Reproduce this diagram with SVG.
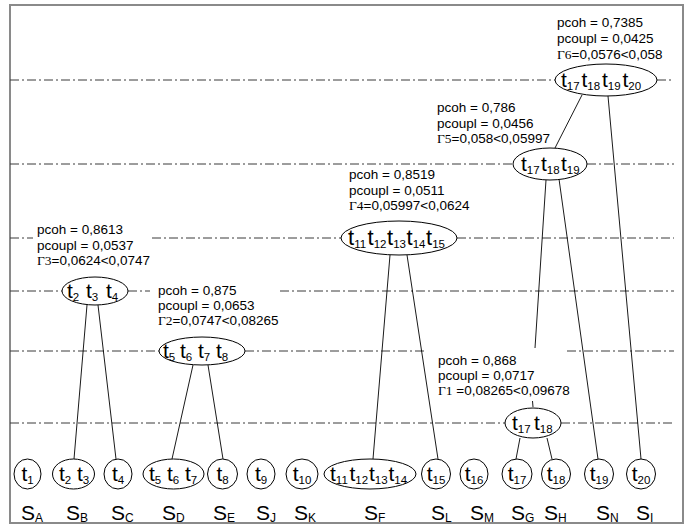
<svg xmlns="http://www.w3.org/2000/svg" width="691" height="528" viewBox="0 0 691 528">
<style>
.bg{fill:#fff}
.frame{fill:none;stroke:#8a8a8a;stroke-width:2}
.lv{fill:none;stroke:#3a3a3a;stroke-width:1;stroke-dasharray:9 3 2 3}
.ed{stroke:#000;stroke-width:0.9;fill:none}
.nd{fill:#fff;stroke:#000;stroke-width:1}
.t{font-family:"Liberation Sans",Arial,sans-serif;font-size:21px;fill:#000}
.tb{font-size:22px}
.s{font-size:11.5px}
.lab{font-family:"Liberation Sans",Arial,sans-serif;font-size:13.5px;fill:#000}
.g{font-family:"Liberation Serif","Times New Roman",serif}
.S{font-family:"Liberation Sans",Arial,sans-serif;font-size:21px;fill:#000}
.ss{font-size:12px}
.m{text-anchor:middle}
</style>
<rect class="bg" x="0" y="0" width="691" height="528"/>
<rect class="frame" x="10" y="5" width="673" height="518"/>
<g id="levels">
<path class="lv" d="M10 80H555M657 80H674"/>
<path class="lv" d="M10 164H513M587 164H674"/>
<path class="lv" d="M10 238H33M152 238H341M457 238H674"/>
<path class="lv" d="M10 291H62M128 291H150M280 291H674"/>
<path class="lv" d="M10 351H159M245 351H424M567 351H674"/>
<path class="lv" d="M10 423H505M561 423H674"/>
</g>
<g id="connectors">
<line class="ed" x1="582" y1="95" x2="555" y2="148"/>
<line class="ed" x1="608" y1="96" x2="641" y2="459"/>
<line class="ed" x1="546" y1="180" x2="535" y2="348"/>
<line class="ed" x1="532.5" y1="401" x2="533" y2="407"/>
<line class="ed" x1="559" y1="179" x2="598" y2="459"/>
<line class="ed" x1="390" y1="255" x2="373" y2="459"/>
<line class="ed" x1="407" y1="255" x2="438" y2="459"/>
<line class="ed" x1="87" y1="305" x2="74" y2="459"/>
<line class="ed" x1="98" y1="305" x2="116" y2="459"/>
<line class="ed" x1="193" y1="365" x2="172" y2="459"/>
<line class="ed" x1="208" y1="365" x2="223" y2="459"/>
<line class="ed" x1="520" y1="438" x2="516" y2="459"/>
<line class="ed" x1="547" y1="438" x2="552" y2="459"/>
</g>
<g id="n6"><ellipse class="nd" cx="606" cy="80" rx="51" ry="16"/>
<text class="t"><tspan x="561" y="87">t</tspan><tspan class="s" dy="3">17</tspan><tspan x="581.5" y="87">t</tspan><tspan class="s" dy="3">18</tspan><tspan x="602" y="87">t</tspan><tspan class="s" dy="3">19</tspan><tspan x="622.5" y="87">t</tspan><tspan class="s" dy="3">20</tspan></text></g>
<g id="n5"><ellipse class="nd" cx="550" cy="164" rx="37" ry="16"/>
<text class="t"><tspan x="521" y="171">t</tspan><tspan class="s" dy="3">17</tspan><tspan x="541" y="171">t</tspan><tspan class="s" dy="3">18</tspan><tspan x="561" y="171">t</tspan><tspan class="s" dy="3">19</tspan></text></g>
<g id="n4"><ellipse class="nd" cx="399" cy="238" rx="58" ry="17"/>
<text class="t"><tspan class="tb" x="348" y="245">t</tspan><tspan class="s" dy="3">11</tspan><tspan class="tb" x="367.5" y="245">t</tspan><tspan class="s" dy="3">12</tspan><tspan class="tb" x="387" y="245">t</tspan><tspan class="s" dy="3">13</tspan><tspan class="tb" x="406.5" y="245">t</tspan><tspan class="s" dy="3">14</tspan><tspan class="tb" x="426" y="245">t</tspan><tspan class="s" dy="3">15</tspan></text></g>
<g id="n3"><ellipse class="nd" cx="95" cy="291" rx="33" ry="14"/>
<text class="t"><tspan x="67" y="298">t</tspan><tspan class="s" dy="3">2</tspan><tspan x="86" y="298">t</tspan><tspan class="s" dy="3">3</tspan><tspan x="106" y="298">t</tspan><tspan class="s" dy="3">4</tspan></text></g>
<g id="n2"><ellipse class="nd" cx="202" cy="351" rx="43" ry="14"/>
<text class="t"><tspan x="163" y="358">t</tspan><tspan class="s" dy="3">5</tspan><tspan x="180" y="358">t</tspan><tspan class="s" dy="3">6</tspan><tspan x="198" y="358">t</tspan><tspan class="s" dy="3">7</tspan><tspan x="216" y="358">t</tspan><tspan class="s" dy="3">8</tspan></text></g>
<g id="n1"><ellipse class="nd" cx="533" cy="423" rx="28" ry="15"/>
<text class="t"><tspan x="512" y="430">t</tspan><tspan class="s" dy="3">17</tspan><tspan x="534" y="430">t</tspan><tspan class="s" dy="3">18</tspan></text></g>
<g id="sA"><ellipse class="nd" cx="27.5" cy="474" rx="13.5" ry="15"/><text class="t m" x="27.5" y="481">t<tspan class="s" dy="3">1</tspan></text></g>
<g id="sB"><ellipse class="nd" cx="73.5" cy="474" rx="21" ry="15"/><text class="t"><tspan x="59" y="481">t</tspan><tspan class="s" dy="3">2</tspan><tspan x="77" y="481">t</tspan><tspan class="s" dy="3">3</tspan></text></g>
<g id="sC"><ellipse class="nd" cx="118" cy="474" rx="14" ry="15"/><text class="t m" x="118" y="481">t<tspan class="s" dy="3">4</tspan></text></g>
<g id="sD"><ellipse class="nd" cx="173.5" cy="474" rx="30.5" ry="15"/><text class="t"><tspan x="149" y="481">t</tspan><tspan class="s" dy="3">5</tspan><tspan x="167" y="481">t</tspan><tspan class="s" dy="3">6</tspan><tspan x="185" y="481">t</tspan><tspan class="s" dy="3">7</tspan></text></g>
<g id="sE"><ellipse class="nd" cx="222.5" cy="474" rx="15" ry="15"/><text class="t m" x="222.5" y="481">t<tspan class="s" dy="3">8</tspan></text></g>
<g id="sJ"><ellipse class="nd" cx="261" cy="474" rx="14" ry="15"/><text class="t m" x="261" y="481">t<tspan class="s" dy="3">9</tspan></text></g>
<g id="sK"><ellipse class="nd" cx="302" cy="474" rx="16" ry="15"/><text class="t m" x="302" y="481">t<tspan class="s" dy="3">10</tspan></text></g>
<g id="sF"><ellipse class="nd" cx="370" cy="474" rx="46" ry="15"/><text class="t"><tspan x="330" y="481">t</tspan><tspan class="s" dy="3">11</tspan><tspan x="349.5" y="481">t</tspan><tspan class="s" dy="3">12</tspan><tspan x="369" y="481">t</tspan><tspan class="s" dy="3">13</tspan><tspan x="388.5" y="481">t</tspan><tspan class="s" dy="3">14</tspan></text></g>
<g id="sL"><ellipse class="nd" cx="436" cy="474" rx="14.5" ry="15"/><text class="t m" x="436" y="481">t<tspan class="s" dy="3">15</tspan></text></g>
<g id="sM"><ellipse class="nd" cx="474" cy="474" rx="14" ry="15"/><text class="t m" x="474" y="481">t<tspan class="s" dy="3">16</tspan></text></g>
<g id="sG"><ellipse class="nd" cx="517" cy="474" rx="15" ry="15"/><text class="t m" x="517" y="481">t<tspan class="s" dy="3">17</tspan></text></g>
<g id="sH"><ellipse class="nd" cx="556" cy="474" rx="14.5" ry="15"/><text class="t m" x="556" y="481">t<tspan class="s" dy="3">18</tspan></text></g>
<g id="sN"><ellipse class="nd" cx="599" cy="474" rx="14.5" ry="15"/><text class="t m" x="599" y="481">t<tspan class="s" dy="3">19</tspan></text></g>
<g id="sI"><ellipse class="nd" cx="641" cy="474" rx="14.5" ry="15"/><text class="t m" x="641" y="481">t<tspan class="s" dy="3">20</tspan></text></g>
<g id="slabels">
<text class="S" x="21" y="520">S<tspan class="ss" dy="2">A</tspan></text>
<text class="S" x="66" y="520">S<tspan class="ss" dy="2">B</tspan></text>
<text class="S" x="111" y="520">S<tspan class="ss" dy="2">C</tspan></text>
<text class="S" x="162" y="520">S<tspan class="ss" dy="2">D</tspan></text>
<text class="S" x="213" y="520">S<tspan class="ss" dy="2">E</tspan></text>
<text class="S" x="256" y="520">S<tspan class="ss" dy="2">J</tspan></text>
<text class="S" x="294" y="520">S<tspan class="ss" dy="2">K</tspan></text>
<text class="S" x="364" y="520">S<tspan class="ss" dy="2">F</tspan></text>
<text class="S" x="431" y="520">S<tspan class="ss" dy="2">L</tspan></text>
<text class="S" x="470" y="520">S<tspan class="ss" dy="2">M</tspan></text>
<text class="S" x="511" y="520">S<tspan class="ss" dy="2">G</tspan></text>
<text class="S" x="544" y="520">S<tspan class="ss" dy="2">H</tspan></text>
<text class="S" x="596" y="520">S<tspan class="ss" dy="2">N</tspan></text>
<text class="S" x="636" y="520">S<tspan class="ss" dy="2">I</tspan></text>
</g>
<g id="labels">
<text class="lab"><tspan x="557" y="27">pcoh = 0,7385</tspan><tspan x="557" y="43">pcoupl = 0,0425</tspan><tspan x="557" y="59"><tspan class="g">Γ6</tspan>=0,0576&lt;0,058</tspan></text>
<text class="lab"><tspan x="437" y="112">pcoh = 0,786</tspan><tspan x="437" y="128">pcoupl = 0,0456</tspan><tspan x="437" y="143"><tspan class="g">Γ5</tspan>=0,058&lt;0,05997</tspan></text>
<text class="lab"><tspan x="349" y="179">pcoh = 0,8519</tspan><tspan x="349" y="194.5">pcoupl = 0,0511</tspan><tspan x="349" y="210"><tspan class="g">Γ4</tspan>=0,05997&lt;0,0624</tspan></text>
<text class="lab"><tspan x="37" y="234">pcoh = 0,8613</tspan><tspan x="37" y="249.5">pcoupl = 0,0537</tspan><tspan x="37" y="265"><tspan class="g">Γ3</tspan>=0,0624&lt;0,0747</tspan></text>
<text class="lab"><tspan x="158" y="295">pcoh = 0,875</tspan><tspan x="158" y="310">pcoupl = 0,0653</tspan><tspan x="158" y="325"><tspan class="g">Γ2</tspan>=0,0747&lt;0,08265</tspan></text>
<text class="lab"><tspan x="438" y="365">pcoh = 0,868</tspan><tspan x="438" y="380">pcoupl = 0,0717</tspan><tspan x="438" y="395"><tspan class="g">Γ1</tspan> =0,08265&lt;0,09678</tspan></text>
</g>
</svg>
